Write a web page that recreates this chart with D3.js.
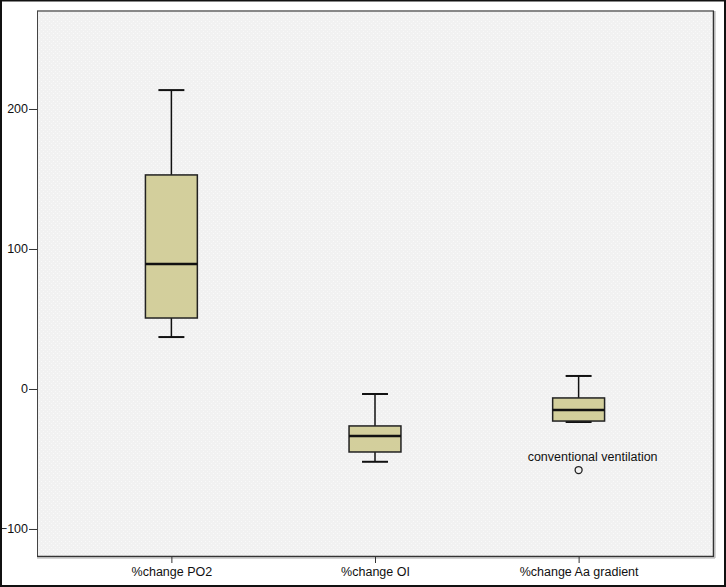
<!DOCTYPE html>
<html><head><meta charset="utf-8">
<script src="https://cdn.jsdelivr.net/npm/d3@7"></script>
<style>body{margin:0;background:#fff}svg{display:block}</style>
</head><body>
<script>
const categories = ["%change PO2", "%change OI", "%change Aa gradient"];
const whiskerHigh = [213.5, -3.6, 9.3];
const q3 = [152.9, -26.4, -6.4];
const median = [89.3, -33.6, -15.0];
const q1 = [50.7, -45.0, -22.9];
const whiskerLow = [37.1, -52.0, -23.6];
const outliers = [{cat: 2, value: -57.9, label: "conventional ventilation"}];
const yTicks = [-100, 0, 100, 200];
const yDomain = [-119.3, 270];

const W = 726, H = 587;
const m = {left: 37, top: 11, right: 713, bottom: 556};
const svg = d3.select("body").append("svg").attr("width", W).attr("height", H)
  .style("font-family", "Arial, 'Liberation Sans', sans-serif");

svg.append("rect").attr("x", 1).attr("y", 0.5).attr("width", W - 2).attr("height", H - 1.5)
  .attr("fill", "#fff").attr("stroke", "#111").attr("stroke-width", 2);

const defs = svg.append("defs");
const pat = defs.append("pattern").attr("id", "dots").attr("width", 4).attr("height", 4).attr("patternUnits", "userSpaceOnUse");
pat.append("rect").attr("width", 4).attr("height", 4).attr("fill", "#f1f1f1");
pat.append("rect").attr("x", 1).attr("y", 1).attr("width", 1).attr("height", 1).attr("fill", "#fafafa");
pat.append("rect").attr("x", 3).attr("y", 3).attr("width", 1).attr("height", 1).attr("fill", "#f8f8f8");

const x = d3.scalePoint().domain(categories).range([m.left, m.right]).padding(0.66);
const bw = x.step() * 0.255;
const y = d3.scaleLinear().domain(yDomain).range([m.bottom, m.top]);

svg.append("rect").attr("x", m.left).attr("y", m.top).attr("width", m.right - m.left).attr("height", m.bottom - m.top)
  .attr("fill", "url(#dots)");
svg.append("line").attr("x1", m.left).attr("x2", m.right + 1).attr("y1", m.top).attr("y2", m.top).attr("stroke", "#888").attr("stroke-width", 2);
svg.append("line").attr("x1", m.left + 0.5).attr("x2", m.left + 0.5).attr("y1", m.top).attr("y2", m.bottom).attr("stroke", "#444").attr("stroke-width", 1);
svg.append("line").attr("x1", m.right + 0.5).attr("x2", m.right + 0.5).attr("y1", m.top).attr("y2", m.bottom + 1).attr("stroke", "#333").attr("stroke-width", 1.5);
svg.append("line").attr("x1", m.right + 2).attr("x2", m.right + 2).attr("y1", m.top).attr("y2", m.bottom + 2).attr("stroke", "#aaa").attr("stroke-width", 1);
svg.append("line").attr("x1", m.left).attr("x2", m.right + 1).attr("y1", m.bottom + 0.5).attr("y2", m.bottom + 0.5).attr("stroke", "#333").attr("stroke-width", 1.5);
svg.append("line").attr("x1", m.left).attr("x2", m.right + 2).attr("y1", m.bottom + 2).attr("y2", m.bottom + 2).attr("stroke", "#aaa").attr("stroke-width", 1);

const yAxis = d3.axisLeft(y).tickValues(yTicks).tickSize(8).tickPadding(1).tickFormat(d3.format("d"));
const gy = svg.append("g").attr("transform", `translate(${m.left},0)`).call(yAxis);
gy.select(".domain").remove();
gy.selectAll("line").attr("stroke", "#333");
gy.selectAll("text").attr("fill", "#111").style("font-size", "12.5px").style("font-family", "Arial, 'Liberation Sans', sans-serif");

const xAxis = d3.axisBottom(x).tickSize(6).tickPadding(4);
const gx = svg.append("g").attr("transform", `translate(0,${m.bottom + 1})`).call(xAxis);
gx.select(".domain").remove();
gx.selectAll("line").attr("stroke", "#333");
gx.selectAll("text").attr("fill", "#111").style("font-size", "12.5px").style("font-family", "Arial, 'Liberation Sans', sans-serif");

categories.forEach((c, i) => {
  const cx = x(c);
  const g = svg.append("g");
  const capW = bw / 2;
  g.append("line").attr("x1", cx).attr("x2", cx).attr("y1", y(whiskerHigh[i])).attr("y2", y(q3[i])).attr("stroke", "#111").attr("stroke-width", 1.5);
  g.append("line").attr("x1", cx).attr("x2", cx).attr("y1", y(q1[i])).attr("y2", y(whiskerLow[i])).attr("stroke", "#111").attr("stroke-width", 1.5);
  g.append("line").attr("x1", cx - capW / 2).attr("x2", cx + capW / 2).attr("y1", y(whiskerHigh[i])).attr("y2", y(whiskerHigh[i])).attr("stroke", "#111").attr("stroke-width", 2);
  g.append("line").attr("x1", cx - capW / 2).attr("x2", cx + capW / 2).attr("y1", y(whiskerLow[i])).attr("y2", y(whiskerLow[i])).attr("stroke", "#111").attr("stroke-width", 2);
  g.append("rect").attr("x", cx - bw / 2).attr("y", y(q3[i])).attr("width", bw).attr("height", y(q1[i]) - y(q3[i]))
    .attr("fill", "#d3cf9c").attr("stroke", "#222").attr("stroke-width", 1.5);
  g.append("line").attr("x1", cx - bw / 2).attr("x2", cx + bw / 2).attr("y1", y(median[i])).attr("y2", y(median[i])).attr("stroke", "#111").attr("stroke-width", 2.5);
});

outliers.forEach(o => {
  const cx = x(categories[o.cat]);
  svg.append("circle").attr("cx", cx).attr("cy", y(o.value)).attr("r", 3.5).attr("fill", "none").attr("stroke", "#222").attr("stroke-width", 1.3);
  svg.append("text").attr("x", cx + 14).attr("y", y(o.value) - 9).attr("text-anchor", "middle")
    .style("font-size", "12.5px").attr("fill", "#111").text(o.label);
});
</script>
</body></html>
